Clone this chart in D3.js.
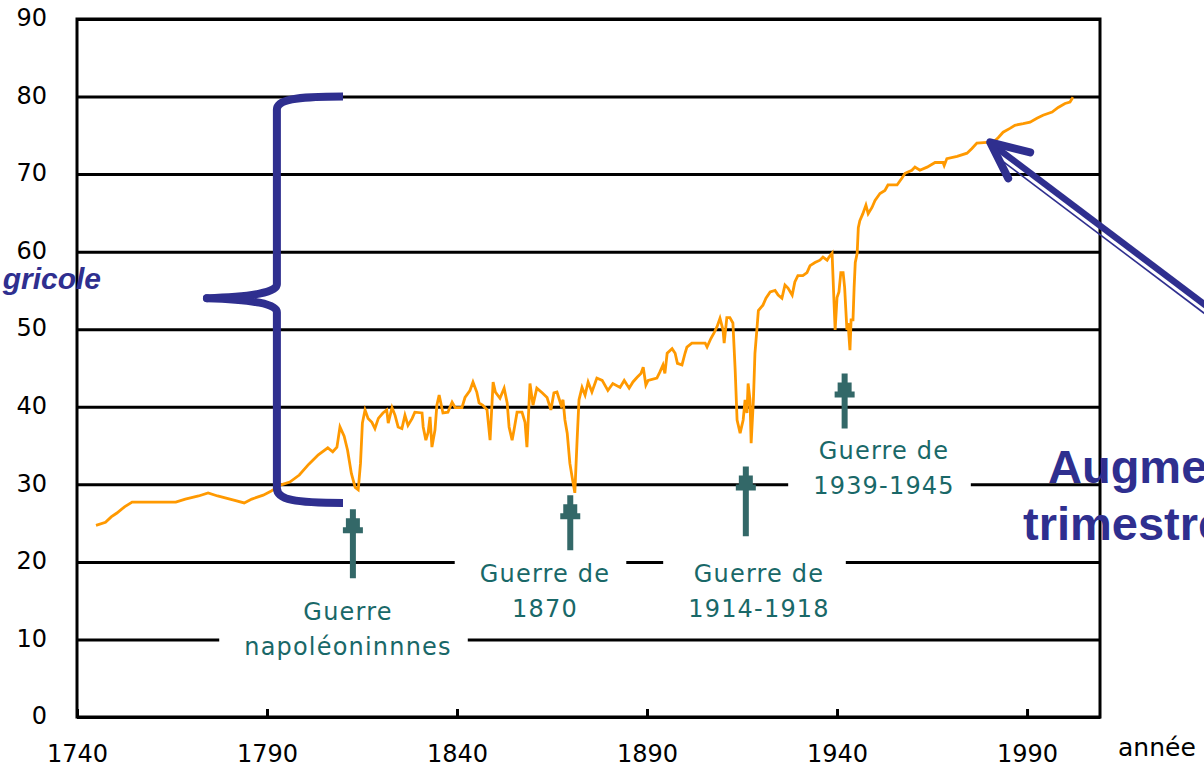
<!DOCTYPE html>
<html>
<head>
<meta charset="utf-8">
<script src="https://cdn.jsdelivr.net/npm/d3@7"></script>
<style>
  body { margin: 0; background: #fff; }
  svg { display: block; }
</style>
</head>
<body>
<svg id="chart"></svg>
<script>
// values (year, index)
var years = [1745, 1747.5, 1749, 1750.5, 1752.5, 1754.5, 1760, 1766, 1768.5, 1772, 1774.5, 1777, 1781, 1784, 1786, 1789,
  1791, 1793.5, 1796, 1798.5, 1801, 1803.5, 1806, 1807.3, 1808.4, 1809.2, 1810.3, 1811.2, 1812.2, 1813.2, 1814, 1814.6,
  1815.1, 1815.8, 1816.6, 1817.6, 1818.4, 1819.3, 1820.5, 1821.5, 1821.9, 1822.9, 1823.7, 1824.5, 1825.5, 1826.3, 1827.1,
  1828.2, 1828.9, 1830.8, 1831.1, 1831.8, 1832.4, 1832.9, 1833.4, 1834.2, 1834.7, 1835.3, 1836.3, 1837.6, 1838.7, 1839.5,
  1841.3, 1842.1, 1843.4, 1844.2, 1845.2, 1845.8, 1846.8, 1847.9, 1848.7, 1849.5, 1850.1, 1851.3, 1852.4, 1853.2, 1853.7,
  1854.5, 1855, 1855.8, 1857.1, 1857.9, 1858.4, 1859.2, 1860, 1861, 1862.4, 1863.7, 1864.7, 1865.5, 1866.3, 1867.4, 1867.9,
  1868.4, 1869, 1869.7, 1870.3, 1871, 1871.6, 1872.1, 1872.9, 1873.7, 1874.5, 1875.5, 1876.8, 1878.2, 1879.7, 1881, 1882.9,
  1884, 1885.3, 1886.3, 1887.4, 1888.4, 1889, 1889.7, 1890.3, 1892.6, 1893.4, 1894.2, 1894.7, 1895.3, 1896.6, 1897.4, 1898,
  1899.2, 1900, 1900.5, 1901.8, 1904, 1905.3, 1905.8, 1906.8, 1907.6, 1908.4, 1909.2, 1910, 1910.3, 1911, 1911.8, 1912.6,
  1913.2, 1913.7, 1914.5, 1915.3, 1915.8, 1916.3, 1916.6, 1917.1, 1917.4, 1918, 1918.4, 1918.9, 1919.3, 1920.5, 1921.3,
  1922.4, 1923.7, 1924.5, 1925.5, 1926.3, 1927.1, 1928.2, 1928.9, 1929.7, 1931, 1932.1, 1932.9, 1934.2, 1935.5, 1936.3,
  1937.4, 1937.9, 1938.7, 1939.1, 1939.5, 1940, 1940.5, 1941, 1941.6, 1942, 1942.6, 1942.9, 1943.4, 1943.7, 1944.2, 1944.5,
  1944.8, 1945.3, 1945.6, 1946, 1946.8, 1947.6, 1948.2, 1949.2, 1950, 1951.3, 1952.6, 1953.4, 1955.8, 1957.1, 1957.9,
  1959.7, 1960.5, 1961.8, 1963.7, 1965.8, 1967.9, 1968.2, 1968.9, 1971.6, 1974.2, 1975.5, 1976.8, 1979.5, 1981.1, 1982.4,
  1983.7, 1985.5, 1986.8, 1989, 1990.8, 1992.6, 1994.2, 1996.6, 1998.2, 2000, 2001.3, 2002.1];
var values = [24.7, 25.1, 25.8, 26.3, 27.1, 27.7, 27.7, 27.7, 28.1, 28.5, 28.9, 28.5, 28.0, 27.6, 28.1, 28.6,
  29.1, 29.9, 30.3, 31.2, 32.6, 33.8, 34.7, 34.2, 34.8, 37.4, 36.2, 34.4, 31.4, 29.6, 29.3, 32.7,
  37.9, 39.6, 38.5, 38.0, 37.2, 38.5, 39.2, 39.6, 37.9, 39.9, 38.9, 37.4, 37.2, 38.9, 37.6,
  38.5, 39.3, 39.2, 37.4, 35.7, 36.7, 38.7, 34.8, 37.0, 40.2, 41.5, 39.2, 39.3, 40.6, 39.9,
  39.9, 41.2, 42.1, 43.2, 41.9, 40.5, 40.2, 39.6, 35.7, 43.2, 41.9, 41.1, 42.4, 40.5, 37.4,
  35.7, 37.0, 39.3, 39.3, 38.0, 34.8, 43.0, 40.2, 42.4, 41.8, 41.2, 39.6, 41.8, 41.9, 40.2, 40.9,
  38.3, 36.6, 32.7, 30.9, 28.9, 35.7, 40.9, 42.5, 41.5, 43.2, 41.9, 43.7, 43.4, 42.1, 43.0, 42.5,
  43.4, 42.4, 43.2, 43.8, 44.3, 45.1, 42.8, 43.4, 43.7, 44.5, 45.4, 44.3, 46.9, 47.5, 46.9, 45.6,
  45.4, 46.9, 47.7, 48.2, 48.2, 48.2, 47.7, 48.8, 49.5, 50.3, 51.4, 49.9, 48.2, 51.5, 51.5, 50.8,
  44.7, 38.3, 36.6, 38.3, 40.9, 39.2, 43.0, 40.9, 35.3, 40.9, 46.9, 49.9, 52.4, 53.1, 54.0,
  54.8, 55.0, 54.4, 54.0, 55.7, 55.3, 54.4, 56.1, 56.9, 56.9, 57.3, 58.2, 58.6, 58.9, 59.3,
  58.9, 59.3, 59.8, 54.8, 49.9, 54.1, 54.8, 57.3, 57.3, 55.4, 49.9, 50.8, 47.3, 51.2, 51.2, 55.4,
  58.6, 59.8, 63.1, 64.0, 64.9, 66.0, 64.9, 65.7, 66.6, 67.5, 67.9, 68.6, 68.6, 69.5, 70.1,
  70.5, 70.9, 70.5, 70.9, 71.5, 71.5, 71.1, 72.0, 72.3, 72.7, 73.3, 74.0, 74.1, 74.1, 74.7,
  75.4, 75.9, 76.3, 76.5, 76.7, 77.2, 77.6, 78.0, 78.6, 79.1, 79.3, 79.9];

var xTicks = [1740, 1790, 1840, 1890, 1940, 1990];
var yTicks = [0, 10, 20, 30, 40, 50, 60, 70, 80, 90];
var warLabels = [["Guerre", "napoléoninnnes"], ["Guerre de", "1870"], ["Guerre de", "1914-1918"], ["Guerre de", "1939-1945"]];
var warYears = [1812.6, 1869.8, 1916.0, 1942.0];
var xLabel = "année";
var sideTexts = ["gricole", "Augme", "trimestre"];

var width = 1204, height = 767;
var margin = {top: 19, right: 104, bottom: 50, left: 77};
var pw = width - margin.left - margin.right;
var ph = height - margin.top - margin.bottom;

var svg = d3.select("#chart").attr("width", width).attr("height", height);

var x = d3.scaleLinear().domain([1740, 2009.2]).range([margin.left, margin.left + pw]);
var y = d3.scaleLinear().domain([0, 90]).range([margin.top + ph, margin.top]);

var teal = "#196868", arrowCol = "#336868", blue = "#2f2f8f", orange = "#ff9900";

// y axis with full-width gridlines
var yAxis = svg.append("g")
    .attr("transform", "translate(" + margin.left + ",0)")
    .call(d3.axisLeft(y).tickValues(yTicks).tickSize(-pw).tickPadding(30));
yAxis.select(".domain").remove();
yAxis.selectAll("line").attr("stroke", "#000").attr("stroke-width", 3);
yAxis.selectAll("text")
    .attr("dy", "0.28em")
    .style("font", "24px 'DejaVu Sans'")
    .attr("fill", "#000");

// x axis, ticks pointing inward
var xAxis = svg.append("g")
    .attr("transform", "translate(0," + (margin.top + ph) + ")")
    .call(d3.axisBottom(x).tickValues(xTicks).tickSizeInner(-8).tickSizeOuter(0).tickFormat(d3.format("d")));
xAxis.select(".domain").attr("stroke", "#000").attr("stroke-width", 3);
xAxis.selectAll("line").attr("stroke", "#000").attr("stroke-width", 3);
xAxis.selectAll("text")
    .attr("y", 45).attr("dy", 0)
    .style("font", "24px 'DejaVu Sans'")
    .attr("fill", "#000");

// frame
svg.append("rect")
    .attr("x", margin.left).attr("y", margin.top)
    .attr("width", pw).attr("height", ph)
    .attr("fill", "none").attr("stroke", "#000").attr("stroke-width", 3);

svg.append("text")
    .attr("x", 1118).attr("y", 756)
    .style("font", "25px 'DejaVu Sans'")
    .text(xLabel);

// war labels with white boxes cutting the gridlines
var labelPos = [
  {cx: 348, base: 620}, {cx: 545, base: 582}, {cx: 759, base: 582}, {cx: 884, base: 459}
];
var labels = svg.append("g");
warLabels.forEach(function(lines, i) {
  var g = labels.append("g");
  var bg = g.append("rect").attr("fill", "#fff");
  var t = g.append("text")
      .attr("text-anchor", "middle")
      .attr("fill", teal)
      .style("font", "24px 'DejaVu Sans'")
      .style("letter-spacing", "1.2px");
  lines.forEach(function(s, j) {
    t.append("tspan")
      .attr("x", labelPos[i].cx)
      .attr("y", labelPos[i].base + j * 35)
      .text(s);
  });
  var b = t.node().getBBox();
  bg.attr("x", b.x - 25).attr("y", b.y - 5)
    .attr("width", b.width + 41).attr("height", b.height + 9);
});

// series
var line = d3.line()
    .x(function(d) { return x(d[0]); })
    .y(function(d) { return y(d[1]); });
svg.append("path")
    .datum(d3.zip(years, values))
    .attr("fill", "none")
    .attr("stroke", orange)
    .attr("stroke-width", 2.8)
    .attr("stroke-linejoin", "miter")
    .attr("d", line);

// war arrows (tip and foot in chart units), stepped heads like the original
var arrowTips = [26.8, 28.6, 32.3, 44.3];
var arrowFeet = [17.9, 21.5, 23.3, 37.2];
warYears.forEach(function(yr, i) {
  var cx = x(yr), t = y(arrowTips[i]), b = y(arrowFeet[i]);
  var half = [[3, 0], [3, 9], [7, 9], [7, 18], [10, 18], [10, 24], [3, 24], [3, b - t]];
  var pts = half.map(function(p) { return [cx + p[0], t + p[1]]; })
    .concat(half.slice().reverse().map(function(p) { return [cx - p[0], t + p[1]]; }));
  svg.append("polygon")
    .attr("points", pts.map(function(p) { return p.join(","); }).join(" "))
    .attr("fill", arrowCol);
});

// brace
var bx = x(1792.6), bl = x(1774.2), br = x(1810);
var bt = y(80), bb = y(27.6), bm = y(54.0);
svg.append("path")
    .attr("d", "M" + br + "," + bt +
      " C" + (bx + 18) + "," + bt + " " + bx + "," + (bt + 3) + " " + bx + "," + (bt + 13) +
      " L" + bx + "," + (bm - 14) +
      " Q" + bx + "," + (bm - 2) + " " + bl + "," + bm +
      " Q" + bx + "," + (bm + 2) + " " + bx + "," + (bm + 14) +
      " L" + bx + "," + (bb - 15) +
      " C" + bx + "," + (bb - 3) + " " + (bx + 18) + "," + bb + " " + br + "," + bb)
    .attr("fill", "none")
    .attr("stroke", blue)
    .attr("stroke-width", 8)
    .attr("stroke-linejoin", "round");
svg.append("circle")
    .attr("cx", bl).attr("cy", bm).attr("r", 4).attr("fill", blue);

// pointer arrow on the right: thick shaft plus a thin parallel line
var tx = x(1980.3), ty = y(74.1);
svg.append("line")
    .attr("x1", tx + 6).attr("y1", ty + 5).attr("x2", tx + 230).attr("y2", ty + 174)
    .attr("stroke", blue).attr("stroke-width", 6.5);
svg.append("line")
    .attr("x1", tx + 10).attr("y1", ty + 17).attr("x2", tx + 226).attr("y2", ty + 180)
    .attr("stroke", blue).attr("stroke-width", 1.6);
svg.append("path")
    .attr("d", "M" + (tx + 40) + "," + (ty + 10) + " L" + tx + "," + ty + " L" + (tx + 18) + "," + (ty + 36))
    .attr("fill", "none").attr("stroke", blue).attr("stroke-width", 8)
    .attr("stroke-linecap", "round").attr("stroke-linejoin", "round");

// side texts
svg.append("text")
    .attr("x", 101).attr("y", 289)
    .attr("text-anchor", "end")
    .attr("fill", blue)
    .style("font", "italic bold 30px 'Liberation Sans'")
    .text(sideTexts[0]);
svg.append("text")
    .attr("x", 1048).attr("y", 483)
    .attr("fill", blue)
    .style("font", "bold 47px 'Liberation Sans'")
    .text(sideTexts[1]);
svg.append("text")
    .attr("x", 1023).attr("y", 540)
    .attr("fill", blue)
    .style("font", "bold 47px 'Liberation Sans'")
    .text(sideTexts[2]);
</script>
</body>
</html>
